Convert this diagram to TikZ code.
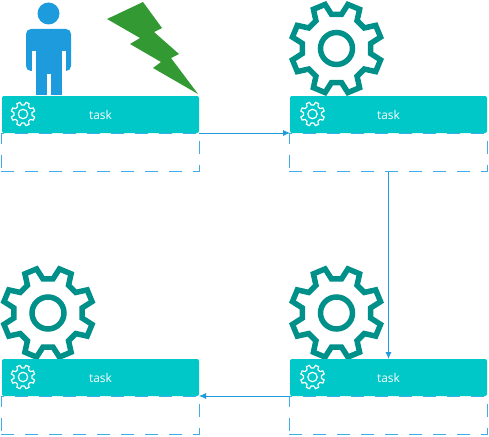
\documentclass[tikz,border=0pt]{standalone}
\usepackage{fontspec}
\setmainfont{Open Sans}
\usetikzlibrary{arrows.meta}
\definecolor{taskfill}{HTML}{00C8C8}
\definecolor{linkblue}{HTML}{1E9BDC}
\definecolor{slotblue}{HTML}{3FAEE8}
\definecolor{gearteal}{HTML}{00908A}
\definecolor{boltgreen}{HTML}{339933}

\begin{document}
\begin{tikzpicture}[x=1pt,y=-1pt,
    task/.style ={rectangle, fill=taskfill, rounded corners=2pt, text=white, inner sep=0pt, outer sep=0pt,
      minimum width=197pt, minimum height=37pt, font=\fontsize{12}{14}\selectfont},
    slot/.style ={rectangle, draw=slotblue, line width=1pt, dash pattern=on 13pt off 11pt, inner sep=0pt, outer sep=0pt,
      minimum width=198.5pt, minimum height=38pt},
    link/.style ={draw=linkblue, line width=0.8pt, -{Latex[length=7pt,width=6pt]}},
    pics/gear/.style args={#1/#2/#3/#4}{code={
      \draw[line width=#4, line join=miter, #3]
        (8.5:#2*0.76) \foreach \a in {22.5,67.5,...,337.5} {
          -- (\a-14:#2*0.76) -- (\a-8:#2) -- (\a+8:#2) -- (\a+14:#2*0.76) } -- cycle;
      \draw[line width=#4, #3] (0,0) circle[radius=#1];
    }}]
   \useasboundingbox (0,0) rectangle (489,436);

   % person
   \fill[linkblue] (48.5,13.5) circle[radius=11];
   \fill[linkblue, rounded corners=5pt] (26,71) -- (26,29) -- (71,29) -- (71,71) -- cycle;
   \fill[linkblue] (35.7,60) rectangle (62.3,95);
   \fill[white] (32.3,51) rectangle (35.7,72);
   \fill[white] (62.3,51) rectangle (65.7,72);
   \fill[white] (26,71) rectangle (35.7,96);
   \fill[white] (62.3,71) rectangle (71,96);
   \fill[white] (46.7,74) rectangle (50.7,96);

   % bolt
   \fill[boltgreen] (107,19) -- (143,2) -- (162,28) -- (154,32) -- (179,54) -- (171,58) -- (198,94)
     -- (153,68) -- (161,62) -- (130,44) -- (140,38) -- cycle;

   % big gears
   \pic (gearB) at (336.5,48.5) {gear={16/45.5/gearteal/5.5pt}};
   \pic (gearC) at (48,313) {gear={16/45.5/gearteal/5.5pt}};
   \pic (gearD) at (336.5,313) {gear={16/45.5/gearteal/5.5pt}};

   \node[slot] (slotA) at (100.5,152.5) {};
   \node[slot] (slotB) at (388.5,152.5) {};
   \node[slot] (slotC) at (100.5,415.5) {};
   \node[slot] (slotD) at (388.5,415.5) {};

   \node[task] (taskA) at (100.5,114.5) {task};
   \node[task] (taskB) at (388.5,114.5) {task};
   \node[task] (taskC) at (100.5,377.5) {task};
   \node[task] (taskD) at (388.5,377.5) {task};

   % small gears
   \pic (iconA) at (23,114) {gear={4.7/12/white/1.2pt}};
   \pic (iconB) at (312.5,114) {gear={4.7/12/white/1.2pt}};
   \pic (iconC) at (23,377) {gear={4.7/12/white/1.2pt}};
   \pic (iconD) at (312.5,377) {gear={4.7/12/white/1.2pt}};

   \draw[link] (taskA.south east) to (taskB.south west);
   \draw[link] (slotB.south) to (taskD.north);
   \draw[link] (taskD.south west) to (taskC.south east);
 \end{tikzpicture}
\end{document}
